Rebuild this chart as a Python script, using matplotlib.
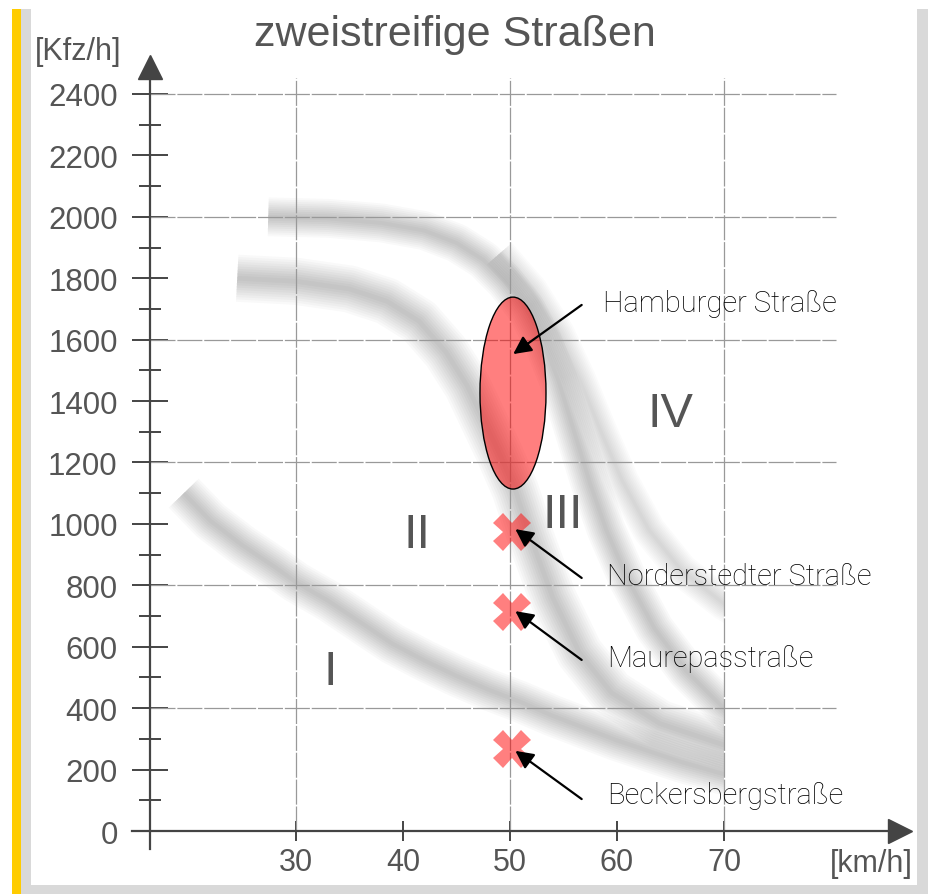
import numpy as np
import matplotlib
matplotlib.use('Agg')
import matplotlib.pyplot as plt
from matplotlib.patches import Ellipse, Rectangle

plt.rcParams['font.family'] = ['Liberation Sans', 'DejaVu Sans']

# Achsen
x_ticks = [30, 40, 50, 60, 70]
y_ticks = list(range(0, 2401, 200))
y_minor = list(range(100, 2400, 200))
grid_x = [30, 50, 70]
grid_y = [400, 800, 1200, 1600, 2000, 2400]

# unscharfe Kurven aus dem Scan (Geschwindigkeit, Kfz/h)
curve_a_x = [27.4, 33, 38, 42, 45, 47.5, 49.5, 51.5, 53, 54.5, 56, 57.5, 59, 61, 63.5, 66.5, 70, 72]
curve_a_y = [2000, 1995, 1980, 1955, 1915, 1860, 1790, 1700, 1600, 1470, 1300, 1130, 980, 820, 660, 520, 400, 340]
curve_a2_x = [49, 52, 54.5, 56.5, 58.5, 60.5, 63, 66, 70, 72]
curve_a2_y = [1880, 1760, 1620, 1470, 1300, 1140, 980, 850, 740, 700]
curve_b_x = [24.5, 30, 35, 38.5, 41.5, 44, 46, 47.5, 49, 50.5, 52, 54, 56.5, 59.5, 64, 70, 72]
curve_b_y = [1800, 1790, 1765, 1725, 1660, 1560, 1450, 1340, 1230, 1110, 950, 760, 580, 450, 350, 280, 260]
curve_c_x = [19.5, 22, 25, 28, 30, 33, 36, 39, 42, 45, 48, 51, 54, 57, 60, 63, 66, 70, 72]
curve_c_y = [1100, 1010, 930, 860, 810, 750, 680, 610, 555, 505, 460, 420, 375, 335, 295, 260, 225, 185, 165]

# Straßen
hamburg_center = (50.28, 1426)
hamburg_size = (6.17, 625)
cross_x = [50.2, 50.2, 50.2]
cross_y = [975, 713, 267]
labels = ['Hamburger Straße', 'Norderstedter Straße', 'Maurepasstraße', 'Beckersbergstraße']
arrow_head = [(50.3, 1553), (50.5, 983), (50.5, 716), (50.5, 261)]
arrow_tail = [(56.7, 1713), (56.7, 824), (56.7, 557), (56.7, 104)]
label_pos = [(58.7, 1719), (59.1, 830), (59.1, 563), (59.1, 117)]

regions = ['I', 'II', 'III', 'IV']
region_pos = [(33.2, 521), (41.3, 967), (54.95, 1032), (65.0, 1361)]

W, H = 929, 895
fig = plt.figure(figsize=(W / 100, H / 100), dpi=100)

# Rahmen
def px_rect(x0, y0, x1, y1, color):
    fig.add_artist(Rectangle((x0 / W, 1 - y1 / H), (x1 - x0) / W, (y1 - y0) / H,
                             transform=fig.transFigure, color=color, lw=0, zorder=0))

px_rect(12, 10, 21, 895, '#ffcc00')
px_rect(21, 10, 31, 895, '#d9d9d9')
px_rect(31, 886, 929, 895, '#d9d9d9')
px_rect(917, 10, 929, 886, '#d9d9d9')

L, R, B, T = 132, 888, 850, 79
ax = fig.add_axes([L / W, 1 - B / H, (R - L) / W, (B - T) / H])
ax.patch.set_visible(False)
ax.set_xlim(14.67, 85.33)
ax.set_ylim(-58.6, 2452)

clip = Rectangle((0, -500), 70, 4000, transform=ax.transData)

def band(xs, ys, width, alpha, n=10):
    for k in range(n):
        lw = width * (1 - k / n)
        line, = ax.plot(xs, ys, color='black', alpha=alpha, lw=lw,
                        solid_capstyle='butt', solid_joinstyle='round', zorder=1)
        line.set_clip_path(clip)

band(curve_a_x, curve_a_y, 28, 0.022)
band(curve_a2_x, curve_a2_y, 24, 0.014)
band(curve_b_x, curve_b_y, 34, 0.022)
band(curve_c_x, curve_c_y, 30, 0.022)

# Gitter
ax.hlines(grid_y, 16.36, 80.5, color='#999999', lw=0.9, ls=(0, (20, 1.5)), zorder=2)
ax.vlines(grid_x, 0, 2452, color='#999999', lw=0.9, ls=(0, (20, 1.5)), zorder=2)

# Achsenlinien mit Pfeilen
for s in ['top', 'right']:
    ax.spines[s].set_visible(False)
ax.spines['left'].set_position(('data', 16.36))
ax.spines['bottom'].set_position(('data', 0))
for s in ['left', 'bottom']:
    ax.spines[s].set_color('#444444')
    ax.spines[s].set_linewidth(1.6)
    ax.spines[s].set_zorder(3)
ax.plot([16.36], [2488], marker='^', ms=17, color='#444444', clip_on=False, zorder=4)
ax.plot([86.45], [0], marker='>', ms=17, color='#444444', clip_on=False, zorder=4)

ax.set_xticks(x_ticks)
ax.set_yticks(y_ticks)
ax.set_yticks(y_minor, minor=True)
ax.tick_params(axis='y', which='major', direction='inout', length=26.6, width=1.4,
               color='#444444', labelsize=22.5, labelcolor='#555555', pad=10)
ax.tick_params(axis='y', which='minor', direction='inout', length=16, width=1.4, color='#444444')
ax.tick_params(axis='x', which='major', direction='inout', length=14.4, width=1.4,
               color='#444444', labelsize=22, labelcolor='#555555', pad=4)

# Bereiche
for r, (x, y) in zip(regions, region_pos):
    ax.text(x, y, r, fontsize=35, color='#555555', ha='center', va='center', zorder=3)

# Hamburger Straße
ax.add_patch(Ellipse(hamburg_center, *hamburg_size, facecolor=(1, 0, 0, 0.5),
                     edgecolor='black', lw=1, zorder=5))
ax.plot(cross_x, cross_y, ls='none', marker='X', ms=27, color='red', alpha=0.5,
        markeredgewidth=0, zorder=5)

for lab, head, tail, pos in zip(labels, arrow_head, arrow_tail, label_pos):
    ax.annotate('', xy=head, xytext=tail, zorder=6,
                arrowprops=dict(arrowstyle='-|>,head_length=0.6,head_width=0.3',
                                mutation_scale=18, lw=1.6, color='black',
                                shrinkA=0, shrinkB=0))
    ax.text(pos[0], pos[1], lab, fontsize=21, color='black', ha='left', va='center',
            family=['Roboto', 'DejaVu Sans'], fontweight='light', zorder=6)

fig.text(455 / W, 1 - 35 / H, 'zweistreifige Straßen', fontsize=31, color='#555555',
         ha='center', va='center')
fig.text(78 / W, 1 - 52 / H, '[Kfz/h]', fontsize=22, color='#555555', ha='center', va='center')
fig.text(871 / W, 1 - 864 / H, '[km/h]', fontsize=22, color='#555555', ha='center', va='center')

fig.savefig('out.png', dpi=100)
